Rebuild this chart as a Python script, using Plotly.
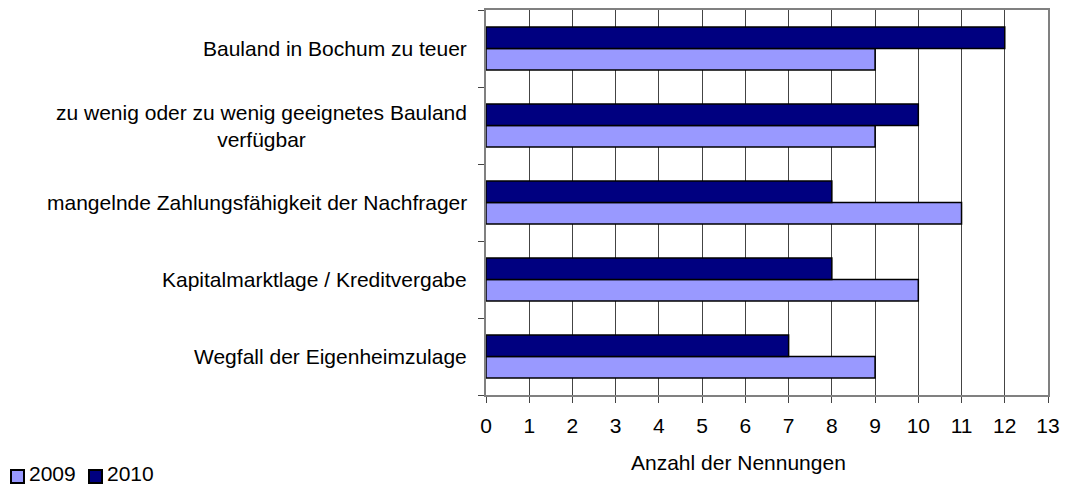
import plotly.graph_objects as go

categories = [
    "Bauland in Bochum zu teuer",
    "zu wenig oder zu wenig geeignetes Bauland<br>verfügbar",
    "mangelnde Zahlungsfähigkeit der Nachfrager",
    "Kapitalmarktlage / Kreditvergabe",
    "Wegfall der Eigenheimzulage",
]
series_names = ["2009", "2010"]
values_2009 = [9, 9, 11, 10, 9]
values_2010 = [12, 10, 8, 8, 7]
x_ticks = list(range(0, 14))
x_title = "Anzahl der Nennungen"

FONT = "Liberation Sans, Arial, sans-serif"
FS = 21
COLORS = ["#9999FF", "#000080"]

fig = go.Figure()
for name, vals, col in zip(series_names, [values_2009, values_2010], COLORS):
    fig.add_trace(go.Bar(
        name=name, y=categories, x=vals, orientation="h",
        marker=dict(color=col, line=dict(color="#000000", width=1.5)),
        showlegend=False,
    ))

for c in categories:
    fig.add_annotation(
        text=c, xref="paper", yref="y", x=0, y=c, xanchor="right", yanchor="middle",
        xshift=-17, align="center", showarrow=False,
        font=dict(family=FONT, size=FS, color="#000000"),
    )

fig.add_annotation(
    text=x_title, xref="paper", yref="paper", x=0.45, y=-0.175, xanchor="center",
    yanchor="middle", showarrow=False, font=dict(family=FONT, size=FS, color="#000000"),
)

# manual legend (pixel offsets relative to plot-area bottom-left corner)
legend_box_x = [-475, -397]
legend_text_x = [-458, -380]
for name, col, bx, tx in zip(series_names, COLORS, legend_box_x, legend_text_x):
    fig.add_shape(
        type="rect", xref="paper", yref="paper", xsizemode="pixel", ysizemode="pixel",
        xanchor=0, yanchor=0, x0=bx, x1=bx + 13, y0=-88, y1=-75,
        fillcolor=col, line=dict(color="#000000", width=2),
    )
    fig.add_annotation(
        text=name, xref="paper", yref="paper", x=0, y=0, xshift=tx, yshift=-78.5,
        xanchor="left", yanchor="middle", showarrow=False, borderpad=0,
        font=dict(family=FONT, size=FS, color="#000000"),
    )

fig.update_layout(
    width=1065, height=486,
    margin=dict(l=486, r=17, t=10, b=91, autoexpand=False),
    paper_bgcolor="white", plot_bgcolor="white",
    barmode="group", bargap=0.44, bargroupgap=0,
    font=dict(family=FONT, size=FS, color="#000000"),
    showlegend=False,
    xaxis=dict(
        range=[0, 13], tickmode="array", tickvals=x_ticks, ticktext=[str(t) for t in x_ticks],
        showgrid=True, gridcolor="#444444", gridwidth=1,
        showline=True, linecolor="#808080", linewidth=2, mirror=True,
        ticks="outside", ticklen=6, tickcolor="#444444", tickwidth=1,
        ticklabelstandoff=5,
        zeroline=False, fixedrange=True,
    ),
    yaxis=dict(
        type="category", categoryorder="array", categoryarray=categories[::-1],
        showticklabels=False, showgrid=False,
        showline=True, linecolor="#808080", linewidth=2, mirror=True,
        ticks="outside", tickson="boundaries", ticklen=6, tickcolor="#444444",
        zeroline=False, fixedrange=True,
    ),
)

fig.write_html(
    "out.html",
    config={"displayModeBar": False, "staticPlot": True},
    post_script="document.body.style.margin='0';document.body.style.overflow='hidden';",
)
